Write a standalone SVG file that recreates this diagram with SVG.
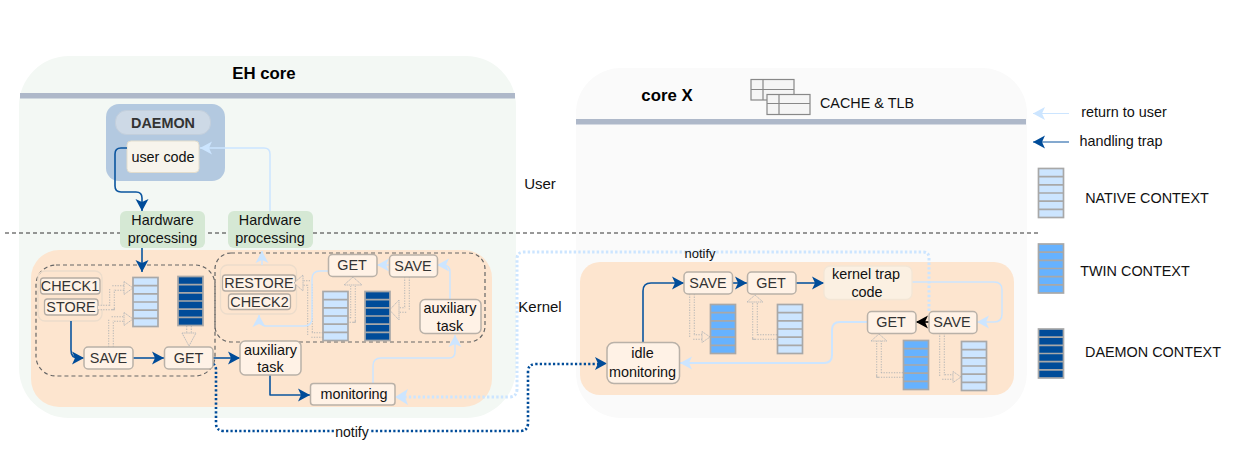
<svg xmlns="http://www.w3.org/2000/svg" xmlns:xlink="http://www.w3.org/1999/xlink" width="1257" height="462" viewBox="0 0 1257 462">
<style>
text{font-family:"Liberation Sans",Arial,sans-serif;font-size:14.4px;fill:#111;text-anchor:middle}
.d text,text.d{fill:#333}
.b{font-weight:bold;font-size:16.8px;fill:#000}
.box{fill:#fff2e6;stroke:#b9b1a8;stroke-width:1.5}
.sm{fill:#fff2e6;stroke:#b5aca3;stroke-width:1.3}
.grp{fill:none;stroke:#ecdccb;stroke-width:1.3}
.hw{fill:#d5e8d4}
.dash{fill:none;stroke:#666;stroke-width:1.2;stroke-dasharray:4 3}
.c{fill:none;stroke-linejoin:round}
.dk{stroke:#0b559f;stroke-width:1.6;marker-end:url(#ad)}
.lt{stroke:#cce5ff;stroke-width:1.5;marker-end:url(#al)}
.ft{fill:none;stroke:#b5b5b5;stroke-width:5.5;stroke-dasharray:1.3 1.3}
.fi{fill:none;stroke:#fde5cf;stroke-width:3.6}
.fh{fill:#fde5cf;stroke:#bdbdbd;stroke-width:1;stroke-dasharray:1.5 0.6}
.cl{stroke:#a8a8a8;stroke-width:1.7}
</style>
<defs>
<marker id="ad" markerUnits="userSpaceOnUse" markerWidth="14" markerHeight="14" refX="12" refY="7" orient="auto"><path d="M0,0.5 L12,7 L0,13.5 L3,7Z" fill="#004c99"/></marker>
<marker id="al" markerUnits="userSpaceOnUse" markerWidth="14" markerHeight="14" refX="12" refY="7" orient="auto"><path d="M0,0.5 L12,7 L0,13.5 L3,7Z" fill="#cce5ff"/></marker>
<marker id="ak" markerUnits="userSpaceOnUse" markerWidth="14" markerHeight="14" refX="12" refY="7" orient="auto"><path d="M0,0.5 L12,7 L0,13.5 L3,7Z" fill="#000"/></marker>
<g id="ctx">
<rect width="25" height="49" class="cl"/>
<path d="M0,8.2H25M0,16.3H25M0,24.5H25M0,32.7H25M0,40.8H25" class="cl"/>
</g>
</defs>

<g id="eh-core">
<rect x="19" y="56" width="497" height="362" rx="50" fill="#f3f8f4"/>
<rect x="20" y="93" width="495" height="5.5" fill="#aeb8c9"/>
<text x="264" y="79" class="b">EH core</text>
</g>
<g id="core-x">
<rect x="576" y="68" width="451" height="350" rx="45" fill="#fafafa"/>
<rect x="576" y="119" width="450" height="5.5" fill="#aeb8c9"/>
<text x="667" y="101" class="b">core X</text>
</g>
<g id="cache-tlb">
<g fill="#f5f5f5" stroke="#888" stroke-width="1.2">
<rect x="751" y="79.500" width="43" height="20.500"/><path d="M763,79.500V100M751,89.500H794"/>
<rect x="767" y="94.500" width="43" height="20"/><path d="M779,94.500V114.500M767,103.500H810"/>
</g>
<text x="867" y="108">CACHE &amp; TLB</text>
</g>
<g id="kernel-eh"><rect x="31" y="250" width="461" height="157" rx="28" fill="#fde5cf"/></g>
<g id="kernel-x"><rect x="580" y="262" width="434" height="133" rx="20" fill="#fde5cf"/></g>

<g id="daemon">
<rect x="106" y="104" width="119" height="77" rx="13" fill="#b3c9e0"/>
<rect x="115.500" y="110.500" width="95" height="24" rx="11" fill="#cdd9e6" stroke="#c3cfdc"/>
<text x="163" y="127.500" style="font-weight:bold;fill:#333">DAEMON</text>
</g>
<g id="user-code">
<rect x="127" y="141" width="72" height="31.500" rx="4" fill="#f7f4ec" stroke="#e3ddcd"/>
<text x="163" y="161.500">user code</text>
</g>

<line id="boundary" x1="5" y1="233" x2="1040" y2="233" stroke="#333" stroke-width="1" stroke-dasharray="4 3"/>

<g id="hw1"><rect x="120" y="211" width="85" height="37" rx="6" class="hw"/><text x="162.500" y="225">Hardware</text><text x="162.500" y="243">processing</text></g>
<g id="hw2"><rect x="228" y="211" width="85" height="37" rx="6" class="hw"/><text x="270" y="225">Hardware</text><text x="270" y="243">processing</text></g>

<rect id="scope1" x="36" y="265" width="179" height="111" rx="20" class="dash"/>
<rect id="scope2" x="215" y="253" width="270" height="89" rx="16" class="dash"/>

<g id="check-group1"><rect x="38" y="271" width="64" height="50" rx="7" class="grp"/></g>
<g id="check1" class="d"><rect x="40.500" y="278" width="59.500" height="16" rx="3" class="sm"/><text x="70" y="291">CHECK1</text></g>
<g id="store" class="d"><rect x="44.500" y="299" width="53.500" height="16" rx="3" class="sm"/><text x="71" y="312">STORE</text></g>
<g id="check-group2"><rect x="220.500" y="265" width="76" height="49" rx="7" class="grp"/></g>
<g id="restore" class="d"><rect x="222.500" y="275" width="73" height="16" rx="3" class="sm"/><text x="259" y="288">RESTORE</text></g>
<g id="check2" class="d"><rect x="228.500" y="294" width="62" height="15.500" rx="3" class="sm"/><text x="259.500" y="307">CHECK2</text></g>

<g id="hollow-arrows">
<path d="M98,307.500H112V288H126" class="ft"/><path d="M98,307.500H112V288H126" class="fi"/><path d="M124,281.500L133,288L124,294.500Z" class="fh"/>
<path d="M111,347V319H126" class="ft"/><path d="M111,347V319H126" class="fi"/><path d="M124,312.500L133,319L124,325.500Z" class="fh"/>
<path d="M189,326V334" class="ft"/><path d="M189,326V334" class="fi"/><path d="M182,333L189,346L196,333Z" class="fh"/>
<path d="M323,335H310V283H301" class="ft"/><path d="M323,335H310V283H301" class="fi"/><path d="M303,275L294,283L303,291Z" class="fh"/>
<path d="M347,320H353V286" class="ft"/><path d="M347,320H353V286" class="fi"/><path d="M344,285L353,277L362,285Z" class="fh"/>
<path d="M407,277V310H398" class="ft"/><path d="M407,277V310H398" class="fi"/><path d="M399,300L389.500,310L399,320Z" class="fh"/>
<path d="M692,294V337H703" class="ft"/><path d="M692,294V337H703" class="fi"/><path d="M702,331.500L710,337L702,342.500Z" class="fh"/>
<path d="M777,337H755V302" class="ft"/><path d="M777,337H755V302" class="fi"/><path d="M747,302L755,295L763,302Z" class="fh"/>
<path d="M903,375H879V341" class="ft"/><path d="M903,375H879V341" class="fi"/><path d="M871,341L879,334L887,341Z" class="fh"/>
<path d="M942,333V377H954" class="ft"/><path d="M942,333V377H954" class="fi"/><path d="M953,371.500L961,377L953,382.500Z" class="fh"/>
</g>

<g id="connectors">
<path class="c dk" d="M127,148H121Q115,148 115,154V186Q115,192 121,192H136Q142,192 142,198V211"/>
<path class="c lt" d="M270,211V154Q270,148 264,148H200"/>
<path class="c dk" d="M142,248V272"/>
<path class="c dk" d="M71,321V350Q71,358 78,358H84"/>
<path class="c dk" d="M133,358H164"/>
<path class="c dk" d="M213,358H240"/>
<path class="c dk" d="M270,375V395H310"/>
<path class="c lt" d="M373,383V366Q373,358 381,358H449Q455,358 455,352V335"/>
<path class="c lt" d="M450,299V272Q450,265 443,265H437"/>
<path class="c lt" d="M389,265H377"/>
<path class="c lt" d="M328,271H320Q312,271 312,279V318Q312,326 304,326H266Q259,326 259,315"/>
<path class="c lt" d="M262,265V251"/>
<path class="c" d="M213,364Q216,365 216,370V423Q216,431 224,431H520Q528,431 528,423V372Q528,364 536,364H600" stroke="#004c99" stroke-width="2.6" stroke-dasharray="2.200 2.200"/>
<path d="M595,357L607,363.500L595,370L598,363.500Z" fill="#004c99"/>
<path class="c" d="M929,311V258Q929,252 923,252H524Q517,252 517,259V389Q517,397 509,397H405" stroke="#cce5ff" stroke-width="3" stroke-dasharray="2.400 2.200"/>
<path d="M408,389L395,397L408,405L405,397Z" fill="#cce5ff"/>
<path class="c dk" d="M643,342V291Q643,283 651,283H684"/>
<path class="c dk" d="M732,283H747"/>
<path class="c dk" d="M796,283H824"/>
<path class="c lt" d="M912,282H994Q1002,282 1002,290V314Q1002,322 994,322H977"/>
<path class="c" d="M929,322H916" stroke="#000" stroke-width="1.600" marker-end="url(#ak)"/>
<path class="c lt" d="M867,322H840Q832,322 832,330V355Q832,363 824,363H680" style="stroke-width:2"/>
</g>

<g id="save1" class="d"><rect x="84" y="347" width="49" height="22" rx="4" class="box"/><text x="108.500" y="363">SAVE</text></g>
<g id="get1" class="d"><rect x="164.500" y="347" width="48.500" height="22" rx="4" class="box"/><text x="188.500" y="363">GET</text></g>
<g id="aux1"><rect x="240" y="341" width="61" height="34" rx="5" class="box"/><text x="270.500" y="354.500">auxiliary</text><text x="270.500" y="372">task</text></g>
<g id="monitoring"><rect x="310.500" y="383.500" width="84.500" height="21.500" rx="3" class="box"/><text x="354" y="398.500">monitoring</text></g>
<g id="get2" class="d"><rect x="328.500" y="254.500" width="48.500" height="22" rx="4" class="box"/><text x="352" y="270">GET</text></g>
<g id="save2" class="d"><rect x="389.500" y="255" width="48" height="22" rx="4" class="box"/><text x="413" y="270.500">SAVE</text></g>
<g id="aux2"><rect x="420" y="299.500" width="61" height="34" rx="5" class="box"/><text x="450" y="313">auxiliary</text><text x="450" y="331">task</text></g>
<g id="idle"><rect x="607" y="342.500" width="72.500" height="41" rx="7" class="box"/><text x="642.500" y="358">idle</text><text x="642.500" y="377">monitoring</text></g>
<g id="save3" class="d"><rect x="684" y="272" width="48.500" height="22" rx="4" class="box"/><text x="708" y="288">SAVE</text></g>
<g id="get3" class="d"><rect x="747.500" y="272" width="48.500" height="22" rx="4" class="box"/><text x="771" y="288">GET</text></g>
<g id="ktc"><rect x="824" y="266" width="88" height="33.500" rx="6" fill="#fbf0e2" stroke="#f3e6d6" stroke-width="1.300"/><text x="866" y="278.500">kernel trap</text><text x="867" y="297">code</text></g>
<g id="get4" class="d"><rect x="867.500" y="311.500" width="48.500" height="22" rx="4" class="box"/><text x="891" y="327">GET</text></g>
<g id="save4" class="d"><rect x="929" y="311.500" width="48" height="22" rx="4" class="box"/><text x="952" y="327">SAVE</text></g>

<g id="contexts">
<use href="#ctx" xlink:href="#ctx" x="133" y="277.500" fill="#cce5ff"/>
<use href="#ctx" xlink:href="#ctx" x="178" y="276.500" fill="#004c99"/>
<use href="#ctx" xlink:href="#ctx" x="323" y="291.500" fill="#cce5ff"/>
<use href="#ctx" xlink:href="#ctx" x="365" y="291.500" fill="#004c99"/>
<use href="#ctx" xlink:href="#ctx" x="710.500" y="304.500" fill="#66b2ff"/>
<use href="#ctx" xlink:href="#ctx" x="777.500" y="304.500" fill="#cce5ff"/>
<use href="#ctx" xlink:href="#ctx" x="903.500" y="340.500" fill="#66b2ff"/>
<use href="#ctx" xlink:href="#ctx" x="961.500" y="341.500" fill="#cce5ff"/>
</g>

<g id="labels">
<text x="540" y="189" style="font-size:15px">User</text>
<text x="540" y="312" style="font-size:15px">Kernel</text>
<text x="700" y="258" style="font-size:13px">notify</text>
<rect x="334" y="425" width="37" height="13" fill="#fff"/>
<text x="352" y="437" style="font-size:14px">notify</text>
</g>

<g id="legend">
<path class="c" d="M1069,113.500H1033" stroke="#cce5ff" stroke-width="1.200" marker-end="url(#al)"/>
<path class="c" d="M1069,142H1033" stroke="#0b559f" stroke-width="1.200" marker-end="url(#ad)"/>
<text x="1124" y="117">return to user</text>
<text x="1121" y="146">handling trap</text>
<use href="#ctx" xlink:href="#ctx" x="1038.500" y="168.500" fill="#cce5ff"/>
<use href="#ctx" xlink:href="#ctx" x="1038.500" y="244" fill="#66b2ff"/>
<use href="#ctx" xlink:href="#ctx" x="1038.500" y="329" fill="#004c99"/>
<text x="1147" y="203">NATIVE CONTEXT</text>
<text x="1135" y="276">TWIN CONTEXT</text>
<text x="1153" y="357">DAEMON CONTEXT</text>
</g>
</svg>
